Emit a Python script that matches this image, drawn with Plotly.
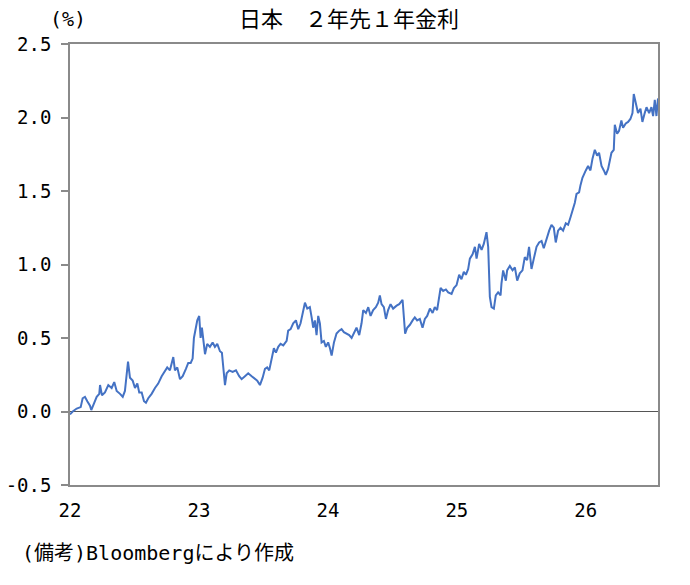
import plotly.graph_objects as go

# Decimal year (two-digit, e.g. 22.5 = mid-2022) and 2y1y forward rate (%)
years = [
    22.000, 22.021, 22.052, 22.083, 22.098, 22.116, 22.134, 22.155, 22.165, 22.181,
    22.207, 22.227, 22.233, 22.248, 22.271, 22.297, 22.323, 22.343, 22.362, 22.388,
    22.409, 22.426, 22.450, 22.465, 22.486, 22.504, 22.522, 22.537, 22.556, 22.574,
    22.589, 22.607, 22.633, 22.659, 22.684, 22.711, 22.736, 22.754, 22.775, 22.801,
    22.814, 22.832, 22.853, 22.874, 22.899, 22.917, 22.936, 22.951, 22.961, 22.977,
    22.987, 23.002, 23.013, 23.023, 23.033, 23.047, 23.064, 23.085, 23.106, 23.124,
    23.142, 23.163, 23.178, 23.188, 23.202, 23.215, 23.235, 23.261, 23.287, 23.312,
    23.331, 23.357, 23.382, 23.409, 23.434, 23.452, 23.473, 23.494, 23.512, 23.529,
    23.545, 23.564, 23.581, 23.597, 23.615, 23.633, 23.654, 23.680, 23.692, 23.711,
    23.731, 23.752, 23.770, 23.788, 23.804, 23.822, 23.840, 23.860, 23.874, 23.886,
    23.899, 23.912, 23.925, 23.938, 23.951, 23.969, 23.984, 24.002, 24.016, 24.029,
    24.047, 24.067, 24.088, 24.106, 24.124, 24.145, 24.165, 24.184, 24.202, 24.222,
    24.243, 24.261, 24.274, 24.295, 24.313, 24.331, 24.351, 24.372, 24.390, 24.403,
    24.416, 24.434, 24.450, 24.467, 24.486, 24.506, 24.533, 24.553, 24.579, 24.589,
    24.599, 24.615, 24.636, 24.657, 24.674, 24.692, 24.713, 24.734, 24.752, 24.770,
    24.791, 24.812, 24.829, 24.847, 24.863, 24.874, 24.894, 24.915, 24.933, 24.959,
    24.977, 24.998, 25.018, 25.036, 25.054, 25.070, 25.088, 25.101, 25.122, 25.140,
    25.153, 25.173, 25.192, 25.209, 25.230, 25.243, 25.256, 25.269, 25.287, 25.302,
    25.320, 25.339, 25.346, 25.359, 25.380, 25.390, 25.411, 25.432, 25.450, 25.468,
    25.488, 25.509, 25.527, 25.545, 25.560, 25.579, 25.597, 25.618, 25.638, 25.657,
    25.674, 25.695, 25.716, 25.734, 25.752, 25.767, 25.785, 25.804, 25.824, 25.845,
    25.863, 25.881, 25.897, 25.915, 25.928, 25.948, 25.959, 25.974, 26.000, 26.018,
    26.036, 26.052, 26.070, 26.088, 26.103, 26.122, 26.140, 26.155, 26.173, 26.186,
    26.199, 26.217, 26.225, 26.243, 26.258, 26.276, 26.289, 26.310, 26.328, 26.346,
    26.362, 26.372, 26.388, 26.405, 26.424, 26.439, 26.457, 26.471, 26.491, 26.509,
    26.522, 26.535, 26.548, 26.560,
]
rates = [
    -0.02, 0.00, 0.02, 0.03, 0.09, 0.10, 0.07, 0.04, 0.01, 0.05,
    0.10, 0.12, 0.18, 0.11, 0.13, 0.18, 0.16, 0.20, 0.14, 0.12,
    0.10, 0.14, 0.34, 0.23, 0.21, 0.16, 0.19, 0.13, 0.13, 0.07,
    0.06, 0.09, 0.12, 0.16, 0.19, 0.24, 0.28, 0.30, 0.28, 0.37,
    0.28, 0.30, 0.22, 0.24, 0.29, 0.33, 0.33, 0.36, 0.50, 0.59,
    0.62, 0.65, 0.50, 0.57, 0.50, 0.39, 0.46, 0.44, 0.47, 0.44,
    0.46, 0.41, 0.40, 0.28, 0.18, 0.26, 0.28, 0.27, 0.28, 0.24,
    0.22, 0.24, 0.26, 0.24, 0.22, 0.21, 0.18, 0.23, 0.29, 0.30,
    0.28, 0.35, 0.43, 0.40, 0.44, 0.46, 0.45, 0.48, 0.55, 0.56,
    0.60, 0.62, 0.56, 0.60, 0.67, 0.74, 0.70, 0.71, 0.64, 0.57,
    0.62, 0.52, 0.65, 0.60, 0.47, 0.48, 0.44, 0.47, 0.43, 0.38,
    0.47, 0.53, 0.55, 0.56, 0.54, 0.53, 0.52, 0.50, 0.53, 0.57,
    0.52, 0.60, 0.69, 0.67, 0.71, 0.65, 0.69, 0.71, 0.74, 0.79,
    0.73, 0.71, 0.63, 0.69, 0.73, 0.70, 0.72, 0.73, 0.76, 0.60,
    0.53, 0.57, 0.59, 0.62, 0.64, 0.62, 0.63, 0.57, 0.63, 0.65,
    0.70, 0.67, 0.71, 0.69, 0.79, 0.84, 0.82, 0.83, 0.81, 0.80,
    0.84, 0.86, 0.93, 0.90, 0.95, 0.93, 0.97, 1.04, 1.07, 1.12,
    1.04, 1.14, 1.10, 1.14, 1.22, 1.12, 0.78, 0.71, 0.70, 0.79,
    0.81, 0.79, 0.87, 0.96, 0.89, 0.96, 0.99, 0.96, 0.98, 0.89,
    0.94, 0.96, 1.05, 1.03, 1.12, 0.97, 1.04, 1.12, 1.15, 1.16,
    1.11, 1.18, 1.23, 1.27, 1.25, 1.15, 1.23, 1.25, 1.23, 1.28,
    1.27, 1.32, 1.37, 1.42, 1.48, 1.49, 1.54, 1.59, 1.64, 1.67,
    1.64, 1.72, 1.78, 1.74, 1.76, 1.67, 1.64, 1.61, 1.65, 1.71,
    1.76, 1.78, 1.95, 1.89, 1.91, 1.98, 1.93, 1.96, 1.97, 1.99,
    2.03, 2.16, 2.10, 2.03, 2.06, 1.97, 2.03, 2.07, 2.03, 2.07,
    2.01, 2.12, 2.01, 2.13,
]

x_tick_vals = [22, 23, 24, 25, 26]
x_tick_text = ["22", "23", "24", "25", "26"]
y_tick_vals = [-0.5, 0.0, 0.5, 1.0, 1.5, 2.0, 2.5]
y_tick_text = ["-0.5", "0.0", "0.5", "1.0", "1.5", "2.0", "2.5"]

title_text = "日本　２年先１年金利"
unit_text = "(%)"
note_text = "(備考)Bloombergにより作成"

MONO = "DejaVu Sans Mono, Noto Sans CJK JP, sans-serif"
CJK = "Noto Sans CJK JP, sans-serif"
AXIS_GRAY = "#8a8a8a"

fig = go.Figure()
fig.add_trace(go.Scatter(
    x=years, y=rates, mode="lines",
    line=dict(color="#4472C4", width=2),
    showlegend=False, hoverinfo="skip",
))

fig.update_layout(
    width=690, height=585,
    margin=dict(l=70, r=32, t=44, b=100),
    paper_bgcolor="white", plot_bgcolor="white",
    title=dict(text=title_text, font=dict(family=CJK, size=22, color="black"),
               x=349 / 690, xanchor="center", xref="container",
               y=1 - 19 / 585, yanchor="middle", yref="container"),
    xaxis=dict(
        range=[22, 26.56], tickmode="array", tickvals=x_tick_vals, ticktext=x_tick_text,
        showgrid=False, zeroline=False, showline=True, linecolor=AXIS_GRAY, linewidth=1.5,
        mirror=True, ticks="", ticklabelstandoff=7, automargin=False,
        tickfont=dict(family=MONO, size=19, color="black"),
    ),
    yaxis=dict(
        range=[-0.5, 2.5], tickmode="array", tickvals=y_tick_vals, ticktext=y_tick_text,
        showgrid=False, zeroline=True, zerolinecolor="#555555", zerolinewidth=1,
        showline=True, linecolor=AXIS_GRAY, linewidth=1.5, mirror=True,
        ticks="outside", ticklen=7, tickcolor=AXIS_GRAY, tickwidth=1.5,
        ticklabelstandoff=6, automargin=False,
        tickfont=dict(family=MONO, size=19, color="black"),
    ),
)

fig.add_annotation(text=unit_text, xref="paper", yref="paper",
                   x=(68 - 70) / 588, y=(485 - 19) / 441,
                   xanchor="center", yanchor="middle", showarrow=False,
                   font=dict(family=MONO, size=20, color="black"))
fig.add_annotation(text=note_text, xref="paper", yref="paper",
                   x=(20 - 70) / 588, y=(485 - 553) / 441,
                   xanchor="left", yanchor="middle", showarrow=False,
                   font=dict(family=MONO, size=20, color="black"))

fig.write_html("out.html")
